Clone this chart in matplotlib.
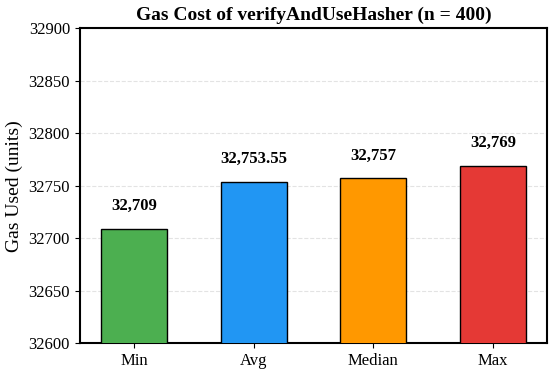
import matplotlib
matplotlib.use('Agg')
import matplotlib.pyplot as plt

# data
categories = ['Min', 'Avg', 'Median', 'Max']
gas_values = [32709, 32753.55, 32757, 32769]
value_labels = ['32,709', '32,753.55', '32,757', '32,769']
bar_colors = ['#4CAF50', '#2196F3', '#FF9800', '#E53935']

plt.rcParams['font.family'] = ['Liberation Serif', 'DejaVu Serif']

fig, ax = plt.subplots(figsize=(5.5, 3.74), dpi=100)
fig.subplots_adjust(left=0.145, right=0.995, top=0.925, bottom=0.082)

bars = ax.bar(categories, gas_values, width=0.55, color=bar_colors,
              edgecolor='black', linewidth=1, zorder=3)

for bar, lbl in zip(bars, value_labels):
    ax.text(bar.get_x() + bar.get_width() / 2, bar.get_height() + 14, lbl,
            ha='center', va='bottom', fontsize=12, fontweight='bold')

ax.set_ylim(32600, 32900)
ax.set_title('Gas Cost of verifyAndUseHasher (n = 400)', fontsize=14, fontweight='bold', pad=6)
ax.set_ylabel('Gas Used (units)', fontsize=14)
ax.tick_params(labelsize=12)
ax.grid(axis='y', linestyle='--', alpha=0.35, zorder=0)
for s in ax.spines.values():
    s.set_linewidth(1.5)

plt.savefig('out.png')
